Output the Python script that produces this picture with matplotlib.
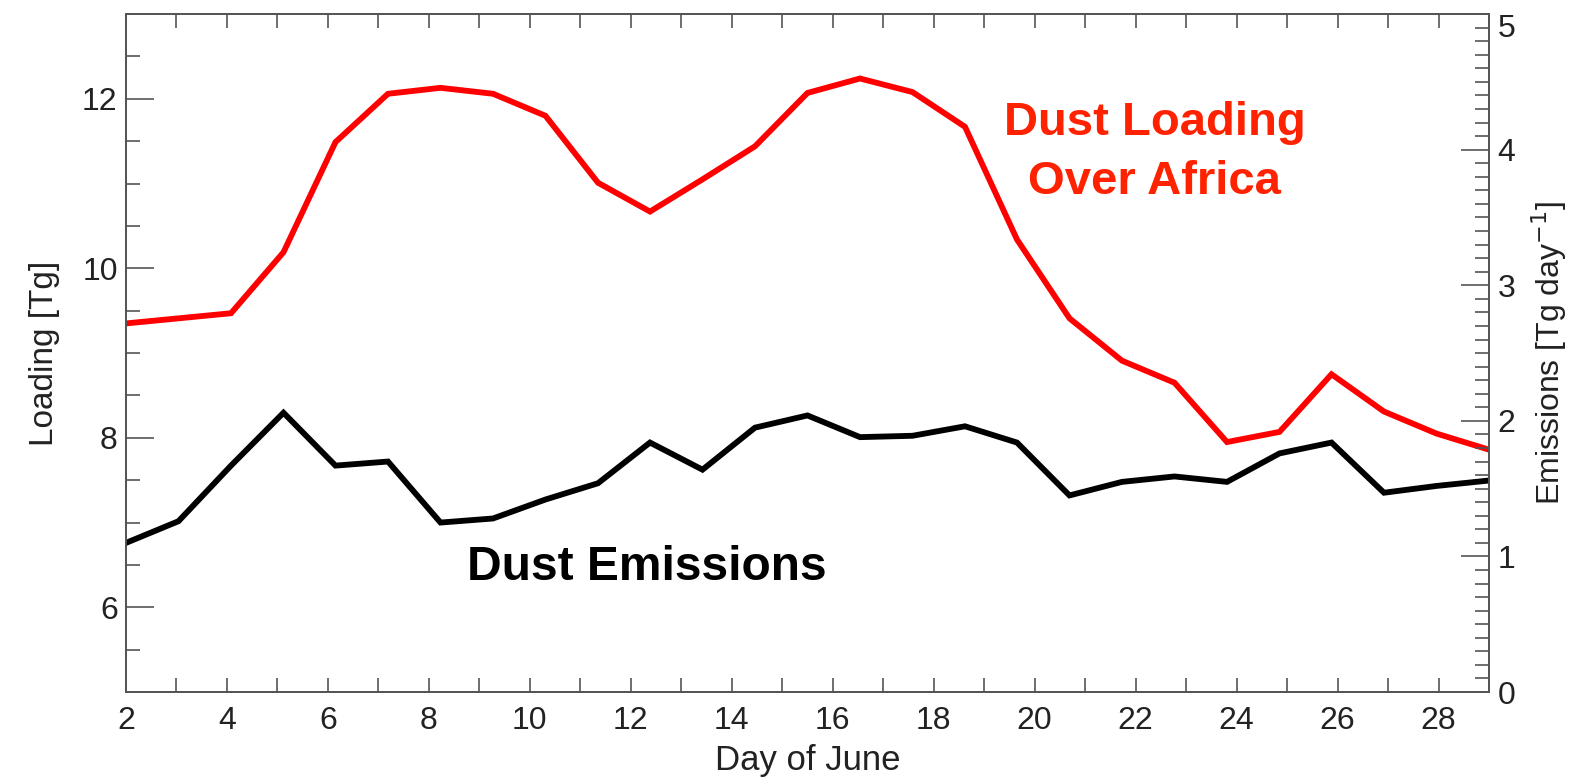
import numpy as np
import matplotlib
matplotlib.use('Agg')
import matplotlib.pyplot as plt
from matplotlib.ticker import MultipleLocator

plt.rcParams['font.family'] = ['Liberation Sans', 'DejaVu Sans']

# Datos
dias = [2.0, 3.04, 4.08, 5.12, 6.15, 7.19, 8.23, 9.27, 10.31, 11.35, 12.38, 13.42, 14.46, 15.5,
        16.54, 17.58, 18.62, 19.65, 20.69, 21.73, 22.77, 23.81, 24.85, 25.88, 26.92, 27.96, 29.0]
carga = [9.35, 9.41, 9.47, 10.19, 11.49, 12.06, 12.13, 12.06, 11.80, 11.01, 10.67, 11.05, 11.44, 12.07,
         12.24, 12.08, 11.67, 10.34, 9.41, 8.91, 8.65, 7.95, 8.07, 8.75, 8.31, 8.05, 7.86]
emisiones = [1.10, 1.26, 1.67, 2.06, 1.67, 1.70, 1.25, 1.28, 1.42, 1.54, 1.84, 1.64, 1.95, 2.04,
             1.88, 1.89, 1.96, 1.84, 1.45, 1.55, 1.59, 1.55, 1.76, 1.84, 1.47, 1.52, 1.56]

fig = plt.figure(figsize=(15.75, 7.84), dpi=100)
ax = fig.add_axes([0.08, 0.1173, 0.8654, 0.8647])
ax2 = ax.twinx()

ax.plot(dias, carga, color='#ff0000', lw=4.2, solid_joinstyle='miter')
ax2.plot(dias, emisiones, color='black', lw=4.2, solid_joinstyle='miter')

ax.set_xlim(2, 29)
ax.set_ylim(5, 13)
ax2.set_ylim(0, 5)

tc = '#222222'
for a in (ax, ax2):
    for s in a.spines.values():
        s.set_color('#555555')
        s.set_linewidth(1.3)

ax.xaxis.set_major_locator(MultipleLocator(2))
ax.xaxis.set_minor_locator(MultipleLocator(1))
ax.yaxis.set_major_locator(MultipleLocator(2))
ax.yaxis.set_minor_locator(MultipleLocator(0.5))
ax2.yaxis.set_major_locator(MultipleLocator(1))
ax2.yaxis.set_minor_locator(MultipleLocator(0.1))

ax.tick_params(axis='x', which='both', direction='in', length=10, width=1.2, color='#555555',
               top=True, labelsize=23, pad=10, labelcolor=tc)
ax.tick_params(axis='y', which='major', direction='in', length=20, width=1.2, color='#555555',
               labelsize=23, pad=6, labelcolor=tc)
ax.tick_params(axis='y', which='minor', direction='in', length=10, width=1.2, color='#555555')
ax2.tick_params(axis='y', which='major', direction='in', length=20, width=1.2, color='#555555',
                labelsize=23, pad=6, labelcolor=tc)
ax2.tick_params(axis='y', which='minor', direction='in', length=10, width=1.2, color='#555555')

ax.set_xlabel('Day of June', fontsize=25, color=tc, labelpad=6)
ax.set_ylabel('Loading [Tg]', fontsize=24, color=tc, labelpad=16)
ax2.set_ylabel('Emissions [Tg day$^{-1}$]', fontsize=23, color=tc, labelpad=10)

ax.text(22.38, 11.72, 'Dust Loading', color='#ff2200', fontsize=34, fontweight='bold',
        ha='center', va='center')
ax.text(22.38, 11.02, 'Over Africa', color='#ff2200', fontsize=34, fontweight='bold',
        ha='center', va='center')
ax.text(12.32, 6.47, 'Dust Emissions', color='black', fontsize=34.5, fontweight='bold',
        ha='center', va='center')

# la etiqueta superior del eje derecho queda dentro del marco
fig.canvas.draw()
for lbl in ax2.get_yticklabels():
    if lbl.get_text() == '5':
        lbl.set_va('top')

plt.savefig('out.png', dpi=100)
